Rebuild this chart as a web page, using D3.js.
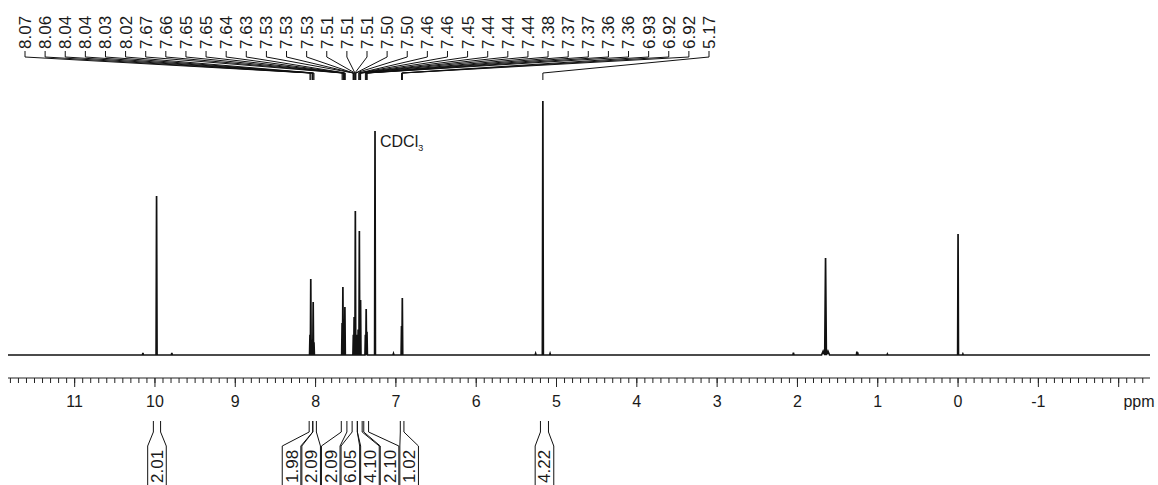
<!DOCTYPE html>
<html><head><meta charset="utf-8">
<script src="https://cdn.jsdelivr.net/npm/d3@7"></script>
<style>
body{margin:0;background:#fff}
svg{display:block}
text{font-family:"Liberation Sans",Arial,Helvetica,sans-serif;fill:#1a1a1a}
</style>
</head><body>
<svg id="chart" width="1158" height="485"></svg>
<script>
// ---- spectrum data (ppm, relative intensity, half line width in ppm) ----
const peakPpm       = [10.15, 9.98, 9.79, 8.07, 8.06, 8.045, 8.03, 8.02, 7.67, 7.66, 7.645, 7.635, 7.53, 7.52, 7.505, 7.49, 7.47, 7.455, 7.44, 7.38, 7.37, 7.36, 7.26, 7.03, 6.93, 6.92, 5.26, 5.17, 5.08, 2.05, 1.68, 1.65, 1.62, 1.26, 1.25, 0.88, 0.00, -0.06];
const peakIntensity = [0.8, 62.6, 0.8, 8, 29.9, 6, 20.9, 5, 12.6, 26.8, 10, 18.9, 8, 15, 56.7, 8, 10, 48.8, 21.7, 8, 18.1, 9.1, 88.2, 0.6, 11.4, 22.4, 0.6, 100, 0.6, 0.9, 1.5, 38.2, 1.5, 1.3, 1.0, 0.4, 47.6, 0.4];
const peakHalfWidth = [0.006, 0.006, 0.006, 0.005, 0.005, 0.005, 0.005, 0.005, 0.005, 0.005, 0.005, 0.005, 0.005, 0.005, 0.005, 0.005, 0.005, 0.005, 0.005, 0.005, 0.005, 0.005, 0.005, 0.006, 0.005, 0.005, 0.006, 0.006, 0.006, 0.006, 0.02, 0.01, 0.02, 0.005, 0.005, 0.006, 0.005, 0.005];

// ---- peak picking labels ----
const shiftLabels = ["8.07","8.06","8.04","8.04","8.03","8.02","7.67","7.66","7.65","7.65","7.64","7.63","7.53","7.53","7.53","7.51","7.51","7.51","7.50","7.50","7.46","7.46","7.45","7.44","7.44","7.44","7.38","7.37","7.37","7.36","7.36","6.93","6.92","6.92","5.17"];

// ---- integrals ----
const integralValues = ["2.01","1.98","2.09","2.09","6.05","4.10","2.10","1.02","4.22"];
const integralStart  = [10.02, 8.08, 8.035, 7.68, 7.545, 7.48, 7.40, 6.945, 5.20];
const integralEnd    = [9.93, 8.035, 7.99, 7.61, 7.48, 7.42, 7.34, 6.90, 5.10];

// ---- axis ----
const axisTicks = [11, 10, 9, 8, 7, 6, 5, 4, 3, 2, 1, 0, -1];
const axisUnit = "ppm";
const solventName = "CDCl";
const solventSub = "3";
const solventPpm = 7.26;

const svg = d3.select("#chart");
const x = d3.scaleLinear().domain([11.83, -2.39]).range([8, 1150]);
const y = d3.scaleLinear().domain([0, 100]).range([355, 101]);

// ---- spectrum line ----
const pts = [{p: 11.83, v: 0}, {p: -2.39, v: 0}];
peakPpm.forEach((p, i) => {
  pts.push({p: p + peakHalfWidth[i], v: 0});
  pts.push({p: p, v: peakIntensity[i]});
  pts.push({p: p - peakHalfWidth[i], v: 0});
});
pts.sort((a, b) => b.p - a.p);
svg.append("path")
  .attr("d", d3.line().x(d => x(d.p)).y(d => y(d.v))(pts))
  .attr("fill", "none").attr("stroke", "#111").attr("stroke-width", 1.7)
  .attr("stroke-linejoin", "miter");

// ---- solvent label ----
const solIdx = peakPpm.indexOf(solventPpm);
const sl = svg.append("text")
  .attr("x", x(solventPpm) + 5).attr("y", y(peakIntensity[solIdx]) + 16)
  .attr("font-size", 16);
sl.append("tspan").text(solventName);
sl.append("tspan").text(solventSub).attr("font-size", 9).attr("dy", 4);

// ---- axis ----
const axisY = 378;
const gAxis = svg.append("g").attr("transform", `translate(0,${axisY})`);
gAxis.append("line").attr("x1", 8).attr("x2", 1150).attr("stroke", "#222").attr("stroke-width", 1);
const minor = d3.range(-23, 119).map(d => d / 10);
gAxis.selectAll("line.minor").data(minor).join("line").attr("class", "minor")
  .attr("x1", d => x(d)).attr("x2", d => x(d)).attr("y1", 0).attr("y2", 5)
  .attr("stroke", "#222").attr("stroke-width", 1);
gAxis.selectAll("line.major").data(axisTicks.concat([-2])).join("line").attr("class", "major")
  .attr("x1", d => x(d)).attr("x2", d => x(d)).attr("y1", 0).attr("y2", 9)
  .attr("stroke", "#222").attr("stroke-width", 1);
gAxis.selectAll("text.tl").data(axisTicks).join("text").attr("class", "tl")
  .attr("x", d => x(d)).attr("y", 29).attr("text-anchor", "middle")
  .attr("font-size", 16).text(d => d);
gAxis.append("text").attr("x", 1139).attr("y", 29).attr("text-anchor", "middle")
  .attr("font-size", 16).text(axisUnit);

// ---- peak labels ----
const labLeft = 25, labStep = (709 - 25) / (shiftLabels.length - 1);
const gLab = svg.append("g");
shiftLabels.forEach((s, i) => {
  const lx = labLeft + i * labStep;
  const px = x(+s);
  gLab.append("text").attr("transform", `translate(${lx},49) rotate(-90)`)
    .attr("dy", "0.35em").attr("font-size", 17).text(s);
  gLab.append("path").attr("d", `M${lx},51 L${lx},57 L${px},73 L${px},80`)
    .attr("fill", "none").attr("stroke", "#111").attr("stroke-width", 1);
});

// ---- integrals (boxes spread without overlap, mean preserving) ----
const boxW = 19.6;
const items = integralValues.map((v, i) => ({v, a: x(integralStart[i]), b: x(integralEnd[i])}));
items.forEach(d => d.c = (d.a + d.b) / 2);
let clusters = items.map(d => ({m: [d], c: d.c}));
let merged = true;
while (merged) {
  merged = false;
  for (let i = 0; i < clusters.length - 1; i++) {
    const A = clusters[i], B = clusters[i + 1];
    const aEnd = A.c + A.m.length * boxW / 2, bStart = B.c - B.m.length * boxW / 2;
    if (aEnd > bStart) {
      const m = A.m.concat(B.m);
      clusters.splice(i, 2, {m, c: d3.mean(m, d => d.c)});
      merged = true; break;
    }
  }
}
clusters.forEach(C => {
  const start = C.c - C.m.length * boxW / 2;
  C.m.forEach((d, k) => d.bc = start + boxW * (k + 0.5));
});
const gInt = svg.append("g");
items.forEach(d => {
  const l = d.bc - boxW / 2 + 0.5, r = d.bc + boxW / 2 - 0.5;
  gInt.append("path").attr("d", `M${d.a},421 L${d.a},432 L${l},446 L${l},490`)
    .attr("fill", "none").attr("stroke", "#111").attr("stroke-width", 1);
  gInt.append("path").attr("d", `M${d.b},421 L${d.b},432 L${r},446 L${r},490`)
    .attr("fill", "none").attr("stroke", "#111").attr("stroke-width", 1);
  gInt.append("text").attr("transform", `translate(${d.bc},483) rotate(-90)`)
    .attr("dy", "0.35em").attr("font-size", 17).text(d.v);
});
</script>
</body></html>
